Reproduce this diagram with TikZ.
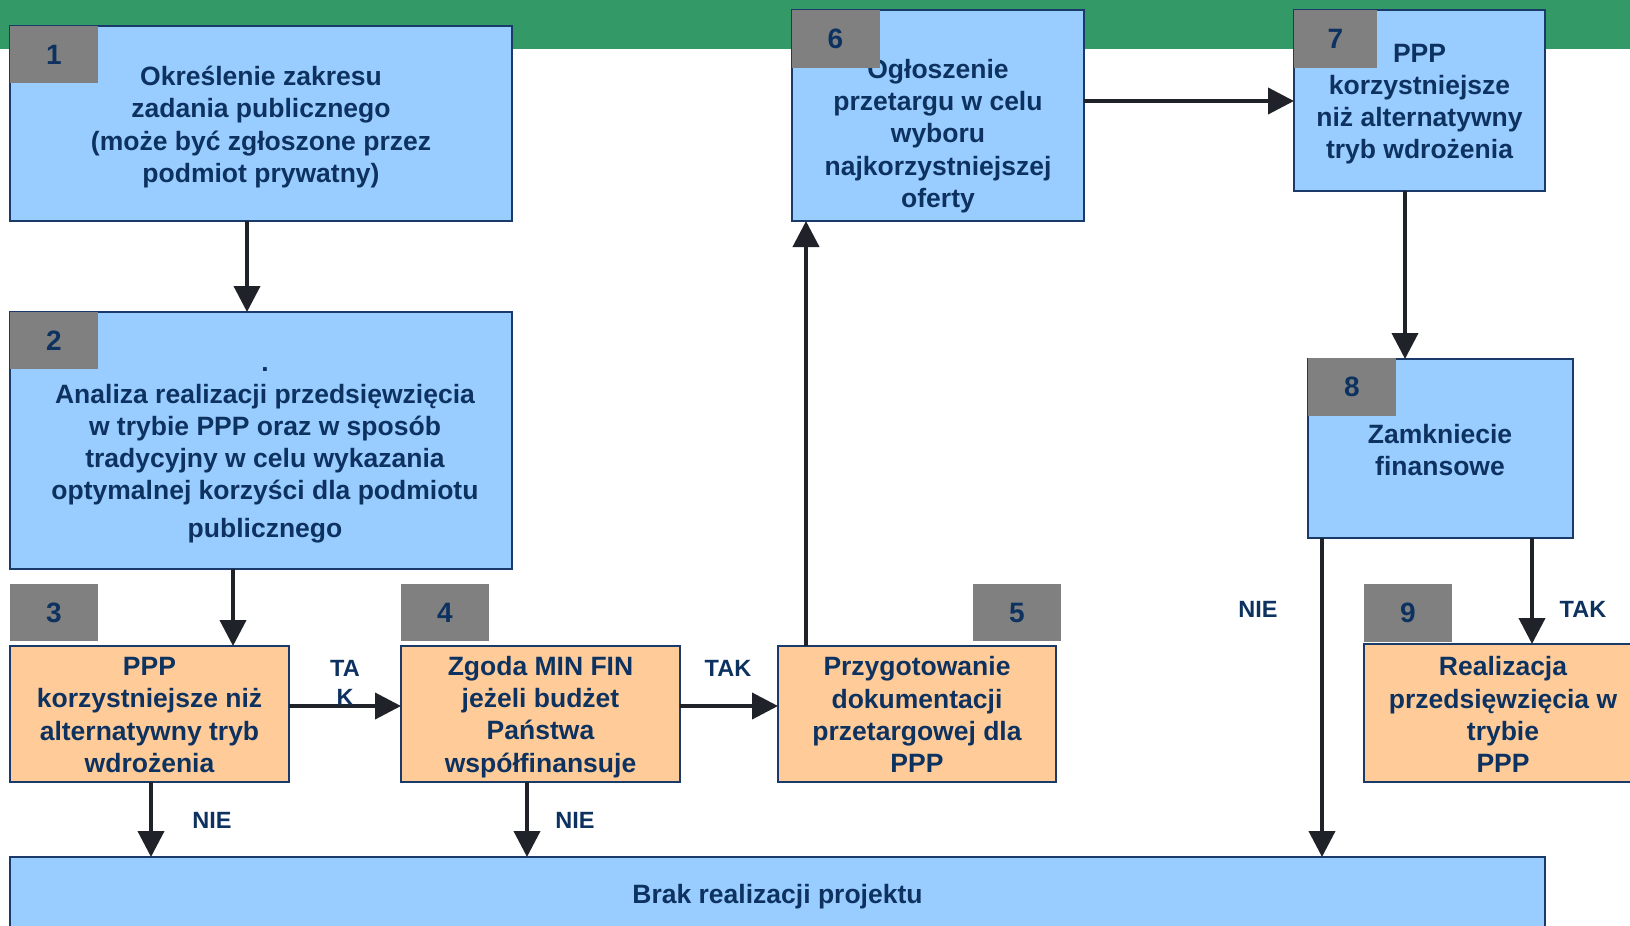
\documentclass[tikz,border=0pt]{standalone}
\usepackage{fontspec}
\setmainfont{Liberation Sans}
\usetikzlibrary{arrows.meta,calc}
\definecolor{bandgreen}{HTML}{339966}
\definecolor{boxblue}{HTML}{99CCFF}
\definecolor{boxorange}{HTML}{FFCC99}
\definecolor{numgray}{HTML}{808080}
\definecolor{txtnavy}{HTML}{0D3260}
\definecolor{edgenavy}{HTML}{1A3A6A}
\definecolor{arrdark}{HTML}{1F2329}
\begin{document}
\begin{tikzpicture}[x=1pt,y=-1pt,
  box/.style={draw=edgenavy, line width=2pt, inner sep=0pt, outer sep=0pt},
  bluebox/.style={box, fill=boxblue},
  orangebox/.style={box, fill=boxorange},
  numbox/.style={fill=numgray, inner sep=0pt, outer sep=0pt, minimum width=88pt, minimum height=57pt, text=txtnavy, font=\fontsize{28}{30}\selectfont\bfseries},
  body/.style={text=txtnavy, align=center, font=\fontsize{26.5}{32.2}\selectfont\bfseries, inner sep=0pt},
  lbl/.style={text=txtnavy, align=center, font=\fontsize{23.5}{29}\selectfont\bfseries, inner sep=0pt},
  arr/.style={draw=arrdark, line width=4pt, -{Triangle[length=26pt,width=26pt]}},
]
\clip (0,0) rectangle (1630,926);
\fill[bandgreen] (0,0) rectangle (1630,49);

% boxes
\node[bluebox, minimum width=502pt, minimum height=195pt] (b1) at (261,123.5) {};
\node[bluebox, minimum width=502pt, minimum height=257pt] (b2) at (261,440.5) {};
\node[orangebox, minimum width=279pt, minimum height=136pt] (b3) at (149.5,714) {};
\node[orangebox, minimum width=279pt, minimum height=136pt] (b4) at (540.5,714) {};
\node[orangebox, minimum width=278pt, minimum height=136pt] (b5) at (917,714) {};
\node[bluebox, minimum width=292pt, minimum height=211pt] (b6) at (938,115.5) {};
\node[bluebox, minimum width=251pt, minimum height=181pt] (b7) at (1419.5,100.5) {};
\node[bluebox, minimum width=265pt, minimum height=179pt] (b8) at (1440.5,448.5) {};
\node[orangebox, minimum width=278pt, minimum height=138pt] (b9) at (1503,713) {};
\node[bluebox, minimum width=1535pt, minimum height=103pt] (b10) at (777.5,908.5) {};

% texts
\node[body] (t1) at (261,127) {Określenie zakresu\\zadania publicznego\\(może być zgłoszone przez\\podmiot prywatny)};
\node[body] (t2) at (265,455) {.\\Analiza realizacji przedsięwzięcia\\w trybie PPP oraz w sposób\\tradycyjny w celu wykazania\\optymalnej korzyści dla podmiotu\\[5pt]publicznego};
\node[body] (t3) at (149.5,715) {PPP\\korzystniejsze niż\\alternatywny tryb\\wdrożenia};
\node[body] (t4) at (540.5,717) {Zgoda MIN FIN\\jeżeli budżet\\Państwa\\współfinansuje};
\node[body] (t5) at (917,714.5) {Przygotowanie\\dokumentacji\\przetargowej dla\\PPP};
\node[body] (t6) at (938,136) {Ogłoszenie\\przetargu w celu\\wyboru\\najkorzystniejszej\\oferty};
\node[body] (t7) at (1419.5,104) {PPP\\korzystniejsze\\niż alternatywny\\tryb wdrożenia};
\node[body] (t8) at (1440,450) {Zamkniecie\\finansowe};
\node[body] (t9) at (1503,714.5) {Realizacja\\przedsięwzięcia w\\trybie\\PPP};
\node[body] (t10) at (777.5,897) {Brak realizacji projektu};

% number tags
\node[numbox] (n1) at (54,54.5) {1};
\node[numbox] (n2) at (54,340.5) {2};
\node[numbox] (n3) at (54,612.5) {3};
\node[numbox] (n4) at (445,612.5) {4};
\node[numbox] (n5) at (1017,612.5) {5};
\node[numbox, minimum height=58pt] (n6) at (835.5,39) {6};
\node[numbox, minimum width=83pt, minimum height=58pt] (n7) at (1335.5,39) {7};
\node[numbox, minimum height=58pt] (n8) at (1352,387) {8};
\node[numbox, minimum height=58pt] (n9) at (1408,613) {9};

% connectors
\draw[arr] ([xshift=-14pt]b1.south) -- ([xshift=-14pt]b2.north);
\draw[arr] ([xshift=-28pt]b2.south) -- ([xshift=-28pt]b2.south |- b3.north);
\draw[arr] ([yshift=8pt]b3.east) -- ([yshift=8pt]b3.east -| b4.west);
\draw[arr] ([yshift=8pt]b4.east) -- ([yshift=8pt]b4.east -| b5.west);
\draw[arr] ([xshift=-111pt]b5.north) -- ([xshift=-111pt]b5.north |- b6.south);
\draw[arr] ([yshift=14.5pt]b6.east) -- ([yshift=14.5pt]b6.east -| b7.west);
\draw[arr] ([xshift=-14.5pt]b7.south) -- ([xshift=-14.5pt]b7.south |- b8.north);
\draw[arr] ([xshift=91.5pt]b8.south) -- ([xshift=91.5pt]b8.south |- b9.north);
\draw[arr] ([xshift=-118.5pt]b8.south) -- ([xshift=-118.5pt]b8.south |- b10.north);
\draw[arr] ([xshift=1.5pt]b3.south) -- ([xshift=1.5pt]b3.south |- b10.north);
\draw[arr] ([xshift=-13.5pt]b4.south) -- ([xshift=-13.5pt]b4.south |- b10.north);

% labels
\node[lbl] (l34) at (345,683) {TA\\K};
\node[lbl] (l45) at (728,668) {TAK};
\node[lbl] (l3n) at (212,820) {NIE};
\node[lbl] (l4n) at (575,820) {NIE};
\node[lbl] (l8n) at (1258,609) {NIE};
\node[lbl] (l89) at (1583,609) {TAK};
\end{tikzpicture}
\end{document}
